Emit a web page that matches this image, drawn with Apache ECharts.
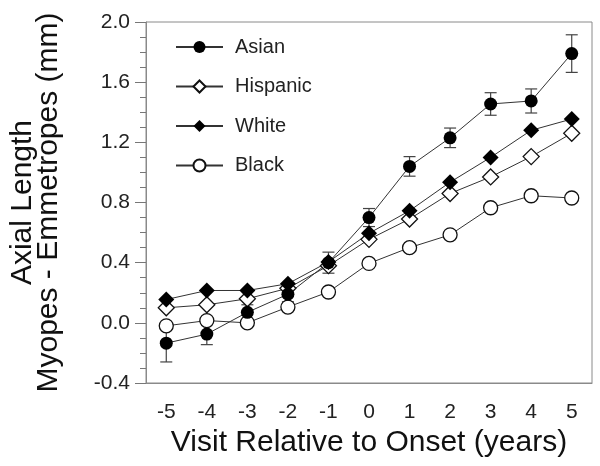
<!DOCTYPE html>
<html>
<head>
<meta charset="utf-8">
<script src="https://cdn.jsdelivr.net/npm/echarts@6/dist/echarts.min.js"></script>
<style>html,body{margin:0;padding:0;background:#fff}#c{width:600px;height:466px}</style>
</head>
<body>
<div id="c"></div>
<script>
var visits = ['-5','-4','-3','-2','-1','0','1','2','3','4','5'];
var asian    = [-0.135, -0.075, 0.07, 0.19, 0.40, 0.70, 1.04, 1.23, 1.455, 1.475, 1.79];
var asianErr = [0.125, 0.07, 0.05, 0.05, 0.07, 0.06, 0.065, 0.065, 0.075, 0.08, 0.125];
var hispanic = [0.10, 0.12, 0.16, 0.23, 0.38, 0.555, 0.69, 0.86, 0.97, 1.105, 1.26];
var white    = [0.155, 0.215, 0.215, 0.26, 0.405, 0.595, 0.745, 0.935, 1.10, 1.28, 1.355];
var black    = [-0.02, 0.015, 0.0, 0.105, 0.205, 0.395, 0.50, 0.585, 0.765, 0.845, 0.83];
var yTicks = {min: -0.4, max: 2.0, interval: 0.4};

var FONT = 'Liberation Sans, Arial, sans-serif';
var chart = echarts.init(document.getElementById('c'), null, {renderer: 'canvas'});

function lineSeries(name, data, symbol, size, filled) {
  return {
    name: name, type: 'line', data: data,
    symbol: symbol, symbolSize: size,
    showAllSymbol: true,
    lineStyle: {color: '#333', width: 1},
    itemStyle: {color: filled ? '#000' : '#fff', borderColor: '#111', borderWidth: filled ? 0 : 1.3},
    emphasis: {disabled: true},
    z: 3
  };
}

var errData = visits.map(function (v, i) { return [i, asian[i] - asianErr[i], asian[i] + asianErr[i]]; });

chart.setOption({
  animation: false,
  backgroundColor: '#fff',
  grid: {left: 146, right: 8, top: 22, bottom: 83, show: true, borderColor: '#8a8a8a', borderWidth: 1},
  legend: {
    orient: 'vertical', left: 170, top: 32,
    itemWidth: 47, itemHeight: 15, itemGap: 19.5,
    textStyle: {fontFamily: FONT, fontSize: 20, color: '#222', padding: [0, 0, 0, 7]},
    data: ['Asian', 'Hispanic', 'White', 'Black']
  },
  xAxis: {
    type: 'category', data: visits, boundaryGap: true,
    name: 'Visit Relative to Onset (years)', nameLocation: 'middle', nameGap: 44,
    nameTextStyle: {fontFamily: FONT, fontSize: 30, color: '#111'},
    axisLine: {onZero: false, lineStyle: {color: '#8a8a8a'}},
    axisTick: {alignWithLabel: true, length: 10, lineStyle: {color: '#777'}},
    axisLabel: {fontFamily: FONT, fontSize: 21, color: '#222', margin: 19},
    splitLine: {show: false}
  },
  yAxis: {
    type: 'value', min: yTicks.min, max: yTicks.max, interval: yTicks.interval,
    name: 'Axial Length\nMyopes - Emmetropes (mm)', nameLocation: 'middle', nameGap: 84,
    nameTextStyle: {fontFamily: FONT, fontSize: 30, color: '#111', lineHeight: 26},
    axisLine: {show: true, onZero: false, lineStyle: {color: '#8a8a8a'}},
    axisTick: {show: true, length: 11, lineStyle: {color: '#777'}},
    minorTick: {show: true, splitNumber: 4, length: 6, lineStyle: {color: '#777'}},
    axisLabel: {fontFamily: FONT, fontSize: 21, color: '#222', margin: 16,
      formatter: function (v) { return v.toFixed(1); }},
    splitLine: {show: false}
  },
  series: [
    {
      type: 'custom', name: 'err', data: errData, z: 2,
      renderItem: function (params, api) {
        var x = api.coord([api.value(0), api.value(1)])[0];
        var lo = api.coord([api.value(0), api.value(1)])[1];
        var hi = api.coord([api.value(0), api.value(2)])[1];
        var w = 6;
        var st = {stroke: '#444', lineWidth: 1.2};
        return {type: 'group', children: [
          {type: 'line', shape: {x1: x, y1: lo, x2: x, y2: hi}, style: st},
          {type: 'line', shape: {x1: x - w, y1: lo, x2: x + w, y2: lo}, style: st},
          {type: 'line', shape: {x1: x - w, y1: hi, x2: x + w, y2: hi}, style: st}
        ]};
      },
      silent: true
    },
    lineSeries('Black', black, 'circle', 14, false),
    lineSeries('Hispanic', hispanic, 'diamond', 16, false),
    lineSeries('White', white, 'diamond', 16, true),
    lineSeries('Asian', asian, 'circle', 13, true)
  ]
});
</script>
</body>
</html>
